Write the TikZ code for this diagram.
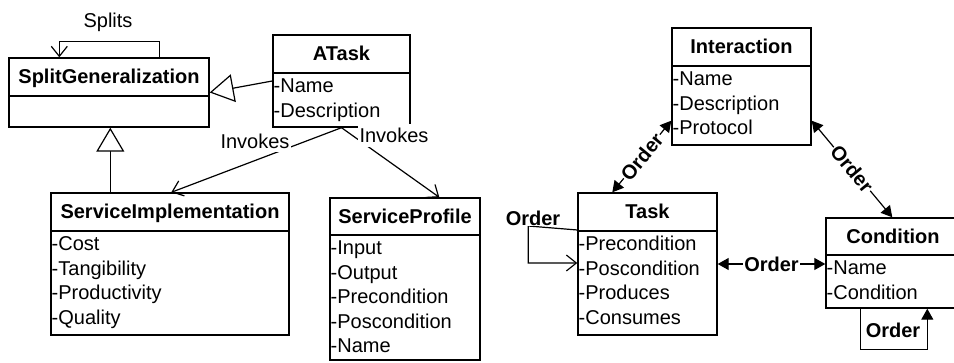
\documentclass[tikz,border=0pt]{standalone}
\usepackage{fontspec}
\setmainfont{Liberation Sans}
\usetikzlibrary{arrows.meta,calc}
\newcommand\mysize{\fontsize{20}{24}\selectfont}
\tikzset{
 classbox/.style={draw, line width=1.4pt, fill=white, inner sep=0pt, rectangle},
 boxline/.style={line width=1.4pt},
 titletext/.style={font=\mysize\bfseries, inner sep=0pt},
 attrtext/.style={font=\mysize, inner sep=0pt},
 conn/.style={line width=1.2pt},
 openhead/.style={conn, -{Straight Barb[length=10pt,width=16pt]}},
 genhead/.style={conn, -{Triangle[open,length=24pt,width=28pt,fill=white]}},
 dblhead/.style={conn, {Triangle[length=11pt,width=12pt]}-{Triangle[length=11pt,width=12pt]}},
 fillhead/.style={conn, -{Triangle[length=11pt,width=12pt]}},
 lbl/.style={fill=white, inner sep=1pt, font=\mysize},
 invlbl/.style={lbl, inner xsep=2pt, inner ysep=4pt},
 olbl/.style={lbl, font=\mysize\bfseries},
}
% name, x1, y1, x2, y2, ydiv, title, attributes
\newcommand\umlclass[8]{%
  \node[classbox, minimum width={(#4)-(#2)}, minimum height={(#5)-(#3)}] (#1) at ({((#2)+(#4))/2},{((#3)+(#5))/2}) {};
  \node[titletext, anchor=base] (#1-title) at ({((#2)+(#4))/2},{((#3)+(#6))/2+7}) {#7};
  \draw[boxline] (#2,#6) -- (#4,#6);
  \foreach \t [count=\i] in {#8} {\node[attrtext, anchor=base west] (#1-a\i) at ({(#2)+0.5},{(#6)+20+(\i-1)*24.5}) {-\t};}
}
\begin{document}
\begin{tikzpicture}[x=1pt,y=-1pt]
\useasboundingbox (0,0) rectangle (954,363);
\fill[white] (0,0) rectangle (954,363);
\clip (0,0) rectangle (954,363);

% classes
\node[classbox, minimum width=200, minimum height=69] (sg) at (109,92.5) {};
\node[titletext, anchor=base] (sg-title) at (109,84) {SplitGeneralization};
\draw[boxline] (9,96) -- (209,96);

\umlclass{atask}{273}{35}{410}{127}{73}{ATask}{Name,Description}
\umlclass{si}{51}{193}{289}{335}{231}{ServiceImplementation}{Cost,Tangibility,Productivity,Quality}
\umlclass{sp}{330}{198}{480}{360}{235}{ServiceProfile}{Input,Output,Precondition,Poscondition,Name}
\umlclass{inter}{672}{28}{811}{145}{66}{Interaction}{Name,Description,Protocol}
\umlclass{task}{578}{193}{717}{335}{231}{Task}{Precondition,Poscondition,Produces,Consumes}
\umlclass{cond}{826}{218}{960}{308}{255}{Condition}{Name,Condition}

% Splits self loop
\draw[openhead] ([xshift=151pt]sg.north west) -- ++(0,-16) -| ([xshift=51pt]sg.north west);
\node[font=\mysize, inner sep=0pt] (splits) at (108,22) {Splits};

% generalizations
\draw[genhead] (atask.west) -- (sg.east);
\coordinate (sigen) at ([xshift=60pt]si.north west);
\draw[genhead] (sigen) -- (sigen |- sg.south);

% invokes
\draw[openhead] (atask.south) -- ([xshift=121pt]si.north west);
\node[invlbl] (inv1) at (255,141) {Invokes};
\draw[openhead] (atask.south) -- ([xshift=110pt]sp.north west);
\node[invlbl] (inv2) at (394,135.5) {Invokes};

% orders
\draw[dblhead] ([xshift=35pt]task.north west) -- node[olbl, sloped, midway] (o1) {Order} ([yshift=25pt]inter.south west);
\draw[dblhead] ([yshift=25pt]inter.south east) -- node[olbl, sloped, midway] (o2) {Order} ([xshift=67pt]cond.north west);
\draw[dblhead] (task.east) -- node[olbl, midway] (o3) {Order} (task.east -| cond.west);

% task self loop
\draw[openhead] ([yshift=34pt]task.west) -- ++(-49,-4) |- ([yshift=1pt]task.west);
\node[olbl] (o4) at (533,218) {Order};

% condition self loop
\draw[fillhead] ([xshift=35pt]cond.south west) -- ++(0,41) -| ([xshift=102pt]cond.south west);
\node[olbl, fill=none, inner sep=0pt] (o5) at (893,330) {Order};
\end{tikzpicture}
\end{document}
